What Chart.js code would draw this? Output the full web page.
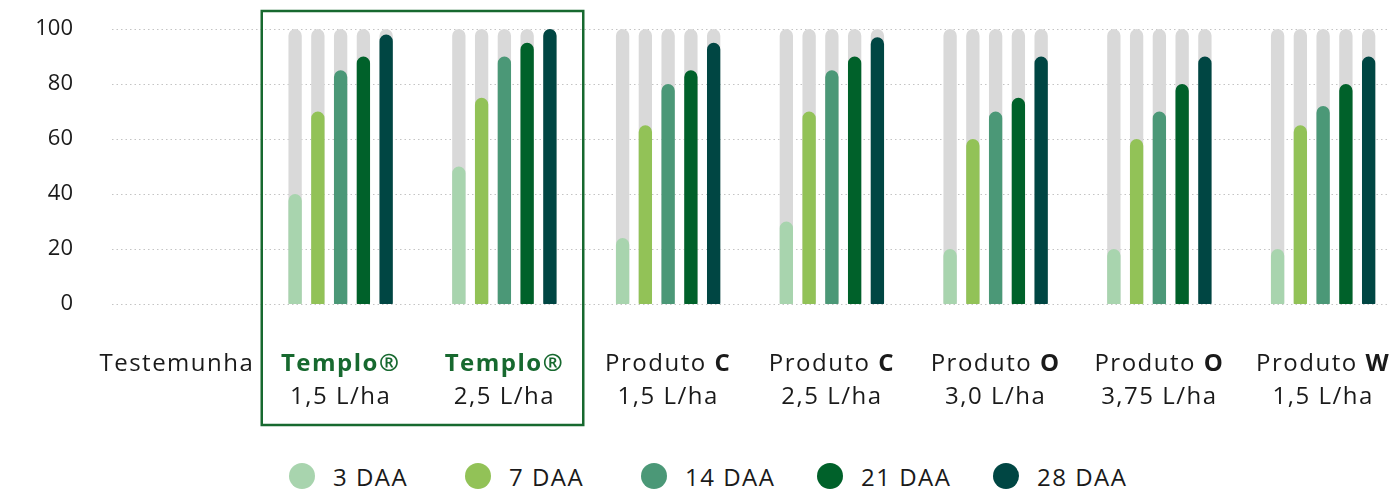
<!DOCTYPE html>
<html lang="pt">
<head>
<meta charset="utf-8">
<title>Controle por DAA</title>
<script src="https://cdn.jsdelivr.net/npm/chart.js@4.4.1/dist/chart.umd.min.js"></script>
<style>
  html, body { margin: 0; padding: 0; background: #fff; overflow: hidden; }
  #wrap { position: relative; width: 1399px; height: 498px; overflow: hidden; }
  #chart { position: absolute; left: 0; top: 0; }
  #legend {
    position: absolute; left: 289px; top: 463px;
    display: flex;
    font-family: 'Open Sans', sans-serif; font-size: 24px; color: #1a1a1a;
    letter-spacing: 1.5px;
  }
  #legend .item { width: 176px; height: 26px; display: flex; align-items: center; }
  #legend .dot { width: 26px; height: 26px; border-radius: 50%; margin-right: 18px; flex: none; }
</style>
</head>
<body>
<div id="wrap">
  <canvas id="chart" width="1405" height="450"></canvas>
  <div id="legend"></div>
</div>
<script>
// Categories (x axis)
const categories = ['Testemunha', 'Templo® 1,5 L/ha', 'Templo® 2,5 L/ha', 'Produto C 1,5 L/ha',
    'Produto C 2,5 L/ha', 'Produto O 3,0 L/ha', 'Produto O 3,75 L/ha', 'Produto W 1,5 L/ha'];
const productNames = ['Testemunha', 'Templo®', 'Templo®', 'Produto', 'Produto', 'Produto', 'Produto', 'Produto'];
const productCodes = ['', '', '', 'C', 'C', 'O', 'O', 'W'];
const doses = ['', '1,5 L/ha', '2,5 L/ha', '1,5 L/ha', '2,5 L/ha', '3,0 L/ha', '3,75 L/ha', '1,5 L/ha'];
const highlighted = [1, 2];

// Series (control %)
const seriesNames = ['3 DAA', '7 DAA', '14 DAA', '21 DAA', '28 DAA'];
const daa3  = [null, 40, 50, 24, 30, 20, 20, 20];
const daa7  = [null, 70, 75, 65, 70, 60, 60, 65];
const daa14 = [null, 85, 90, 80, 85, 70, 70, 72];
const daa21 = [null, 90, 95, 85, 90, 75, 80, 80];
const daa28 = [null, 98, 100, 95, 97, 90, 90, 90];
const track = [null, 100, 100, 100, 100, 100, 100, 100];

// Y axis
const yMin = 0;
const yMax = 100;
const yStep = 10;
const yLabelStep = 20;

const colors = ['#a8d4ae', '#92c257', '#4b9877', '#00612a', '#004643'];
const trackColor = '#d9d9d9';
const green = '#17692f';
const textColor = '#1a1a1a';
const font = "'Open Sans', sans-serif";

const barStyle = {
    categoryPercentage: 0.695,
    barPercentage: 0.585,
    borderRadius: 8,
    borderSkipped: false,
    base: -1.8
};

// each colour shares its slot (stack id) with a grey 100% track drawn behind it
const series = [daa3, daa7, daa14, daa21, daa28];
const datasets = [];
series.forEach((values, i) => {
    datasets.push(Object.assign({
        label: seriesNames[i], data: values, backgroundColor: colors[i], stack: 's' + i, order: 0
    }, barStyle));
});
series.forEach((values, i) => {
    datasets.push(Object.assign({
        label: 'fundo', data: track, backgroundColor: trackColor, stack: 's' + i, order: 1
    }, barStyle));
});

// dotted grid lines, a bit narrower than the plot area
const gridPlugin = {
    id: 'dottedGrid',
    beforeDatasetsDraw(chart) {
        const ctx = chart.ctx;
        const y = chart.scales.y;
        ctx.save();
        ctx.strokeStyle = '#c4c4c4';
        ctx.lineWidth = 1;
        ctx.setLineDash([1.5, 3]);
        y.ticks.forEach(t => {
            const py = Math.round(y.getPixelForValue(t.value)) + 0.5;
            ctx.beginPath();
            ctx.moveTo(112, py);
            ctx.lineTo(1390, py);
            ctx.stroke();
        });
        ctx.restore();
    }
};

// category labels with mixed weights + highlight box
const labelPlugin = {
    id: 'categoryLabels',
    afterDraw(chart) {
        const ctx = chart.ctx;
        const x = chart.scales.x;
        const step = x.getPixelForValue(1) - x.getPixelForValue(0);
        ctx.save();
        ctx.textBaseline = 'alphabetic';
        ctx.letterSpacing = '1.5px';

        categories.forEach((c, i) => {
            const cx = x.getPixelForValue(i);
            const isHi = highlighted.includes(i);
            const normal = '400 24px ' + font;
            const bold = '700 24px ' + font;
            let parts;
            if (isHi) {
                parts = [{ text: productNames[i], font: bold, color: green }];
            } else if (productCodes[i]) {
                parts = [{ text: productNames[i] + ' ', font: normal, color: textColor },
                         { text: productCodes[i], font: bold, color: textColor }];
            } else {
                parts = [{ text: productNames[i], font: normal, color: textColor }];
            }
            let total = 0;
            parts.forEach(p => { ctx.font = p.font; p.w = ctx.measureText(p.text).width; total += p.w; });
            let px = cx - total / 2;
            ctx.textAlign = 'left';
            parts.forEach(p => {
                ctx.font = p.font;
                ctx.fillStyle = p.color;
                ctx.fillText(p.text, px, 371);
                px += p.w;
            });
            if (doses[i]) {
                ctx.font = normal;
                ctx.fillStyle = textColor;
                const w = ctx.measureText(doses[i]).width;
                ctx.fillText(doses[i], cx - w / 2, 404);
            }
        });

        // box around Templo®
        const left = x.getPixelForValue(highlighted[0]) - step / 2 + 3;
        const right = x.getPixelForValue(highlighted[highlighted.length - 1]) + step / 2 - 3;
        ctx.strokeStyle = green;
        ctx.lineWidth = 2.5;
        ctx.strokeRect(left, 11, right - left, 414);
        ctx.restore();
    }
};

const chart = new Chart(document.getElementById('chart'), {
    type: 'bar',
    data: { labels: categories, datasets: datasets },
    options: {
        responsive: false,
        animation: false,
        devicePixelRatio: 1,
        layout: { padding: { top: 29, bottom: 146, left: 0, right: 0 } },
        plugins: {
            legend: { display: false },
            tooltip: { enabled: false }
        },
        scales: {
            x: { type: 'category', display: false, offset: true },
            y: {
                min: yMin,
                max: yMax,
                stacked: false,
                // tick marks are hidden; their length only pushes the labels left
                grid: { display: false, drawTicks: true, tickLength: 22 },
                border: { display: false },
                ticks: {
                    stepSize: yStep,
                    padding: 0,
                    color: textColor,
                    font: { family: font, size: 22 },
                    callback: v => (v % yLabelStep === 0 ? v : '')
                },
                afterFit: s => { s.width = 95; }
            }
        }
    },
    plugins: [gridPlugin, labelPlugin]
});

// HTML legend
const legend = document.getElementById('legend');
seriesNames.forEach((name, i) => {
    const item = document.createElement('div');
    item.className = 'item';
    item.innerHTML = '<span class="dot" style="background:' + colors[i] + '"></span><span>' + name + '</span>';
    legend.appendChild(item);
});
</script>
</body>
</html>
